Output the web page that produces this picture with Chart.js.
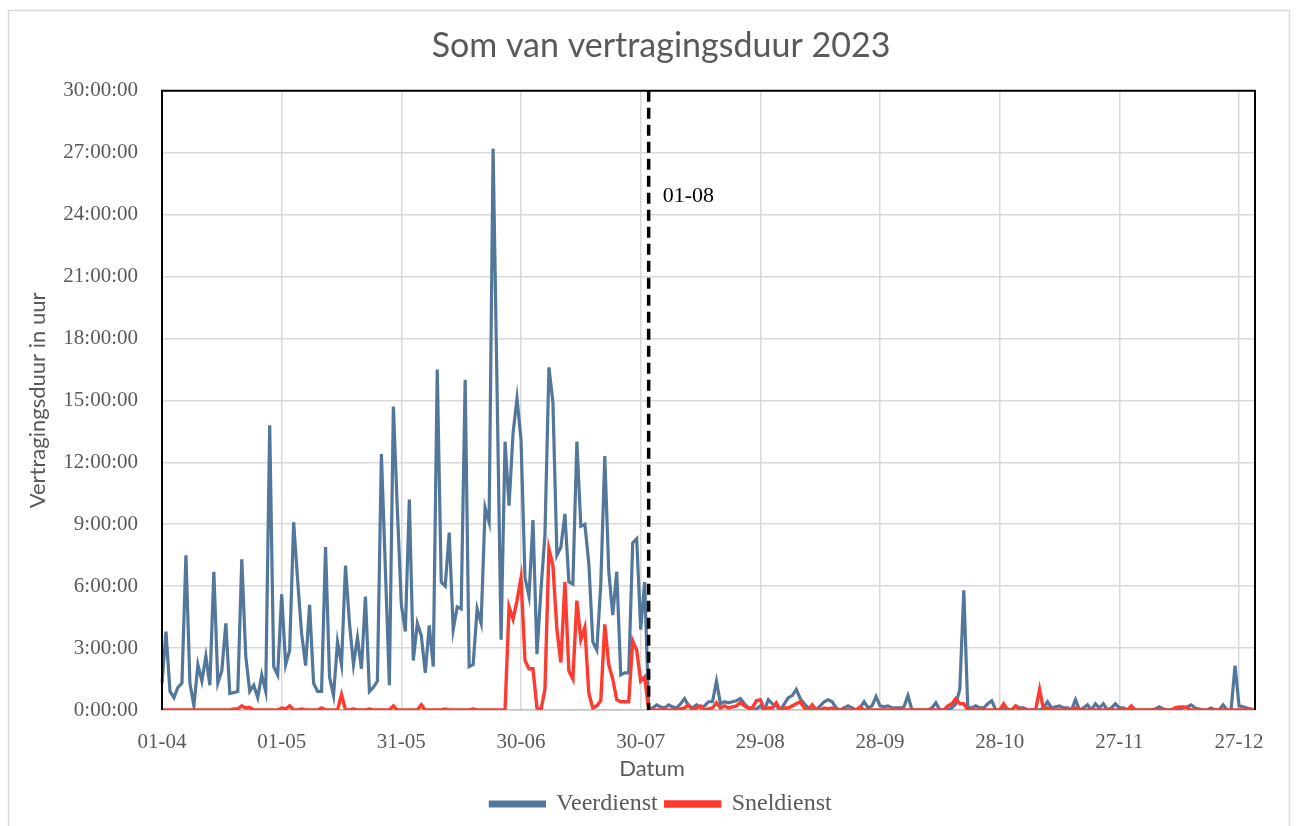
<!DOCTYPE html>
<html>
<head>
<meta charset="utf-8">
<script src="https://cdn.jsdelivr.net/npm/chart.js@4.4.0/dist/chart.umd.min.js"></script>
<style>
  html, body { margin: 0; padding: 0; background: #fff; }
  #wrap { width: 1298px; height: 826px; }
</style>
</head>
<body>
<div id="wrap"><canvas id="myChart" width="1298" height="826"></canvas></div>
<script>
// x-axis tick labels (every 30 days starting 01-04)
var tickLabels = ['01-04', '01-05', '31-05', '30-06', '30-07', '29-08', '28-09', '28-10', '27-11', '27-12'];
var markerIndex = 122;      // 01-08
var markerLabel = '01-08';

// daily totals in hours, 01-04 .. 31-12
var veerdienst = [
    1.3, 3.8, 0.9, 0.6, 1.1, 1.3, 7.5, 1.3, 0.2, 2.2,
    1.4, 2.6, 1.2, 6.7, 1.3, 1.9, 4.2, 0.8, 0.85, 0.9,
    7.3, 2.6, 0.9, 1.2, 0.6, 1.7, 0.9, 13.8, 2.1, 1.7,
    5.6, 2.2, 2.9, 9.1, 6.3, 3.7, 2.15, 5.1, 1.3, 0.9,
    0.9, 7.9, 1.6, 0.7, 3.3, 2.2, 7.0, 4.2, 2.2, 3.5,
    2.0, 5.5, 0.9, 1.1, 1.4, 12.4, 6.8, 1.2, 14.7, 9.7,
    5.1, 3.8, 10.2, 2.4, 4.2, 3.6, 1.8, 4.1, 2.1, 16.5,
    6.2, 6.0, 8.6, 3.9, 5.0, 4.9, 16.0, 2.1, 2.2, 4.9,
    4.2, 9.8, 9.1, 27.2, 15.5, 3.4, 13.0, 9.9, 13.4, 15.1,
    13.1, 6.4, 5.5, 9.2, 2.7, 5.8, 8.5, 16.6, 14.9, 7.5,
    7.9, 9.5, 6.2, 6.1, 13.0, 8.9, 9.0, 7.1, 3.3, 2.9,
    6.1, 12.3, 6.7, 4.6, 6.7, 1.7, 1.8, 1.8, 8.1, 8.3,
    3.9, 6.2,
    0, 0.1, 0.25, 0.15, 0.1, 0.25, 0.15, 0.1,
    0.3, 0.55, 0.2, 0.1, 0.25, 0.1, 0.2, 0.4, 0.4, 1.4,
    0.3, 0.4, 0.35, 0.4, 0.45, 0.55, 0.3, 0.1, 0, 0.05,
    0.2, 0, 0.5, 0.3, 0.2, 0, 0.3, 0.6, 0.7, 1.0,
    0.55, 0.3, 0.1, 0, 0, 0.2, 0.4, 0.5, 0.4, 0.1,
    0, 0.1, 0.2, 0.1, 0, 0.1, 0.4, 0.1, 0.2, 0.65,
    0.2, 0.15, 0.2, 0.1, 0.1, 0.1, 0.15, 0.7, 0, 0,
    0, 0, 0, 0.1, 0.35, 0, 0, 0, 0.1, 0.3,
    1.0, 5.8, 0.1, 0.1, 0.2, 0.1, 0.1, 0.3, 0.45, 0,
    0, 0.1, 0.05, 0, 0.2, 0.1, 0.1, 0, 0, 0,
    0, 0.1, 0.4, 0.1, 0.15, 0.2, 0.1, 0.1, 0, 0.5,
    0, 0.1, 0.25, 0, 0.3, 0.1, 0.3, 0, 0.1, 0.3,
    0.1, 0.1, 0, 0, 0, 0, 0, 0, 0, 0.05,
    0.15, 0.05, 0, 0, 0, 0.05, 0.1, 0.15, 0.25, 0.1,
    0.05, 0, 0, 0.1, 0, 0, 0.25, 0, 0, 2.15,
    0.2, 0.15, 0.1, 0.05, 0
];

var sneldienst = [
    0, 0, 0, 0, 0, 0, 0, 0, 0, 0,
    0, 0, 0, 0, 0, 0, 0, 0, 0.05, 0.05,
    0.2, 0.1, 0.12, 0, 0, 0, 0, 0, 0, 0,
    0.1, 0.05, 0.2, 0, 0, 0.05, 0, 0, 0, 0,
    0.1, 0, 0, 0, 0, 0.75, 0, 0, 0.05, 0,
    0, 0, 0.05, 0, 0, 0, 0, 0, 0.2, 0,
    0, 0, 0, 0, 0, 0.25, 0, 0, 0, 0,
    0, 0.05, 0, 0, 0, 0, 0, 0, 0.05, 0,
    0, 0, 0, 0, 0, 0, 0, 5.0, 4.4, 5.3,
    6.4, 2.4, 2.0, 2.0, 0.1, 0, 1.0, 7.8, 7.0, 3.9,
    2.3, 6.2, 1.9, 1.5, 5.3, 3.4, 4.0, 0.8, 0.1, 0.2,
    0.45, 4.15, 2.2, 1.5, 0.5, 0.4, 0.4, 0.4, 3.35, 2.9,
    1.4, 1.6,
    0, 0, 0, 0, 0, 0, 0, 0,
    0.05, 0.1, 0.25, 0, 0.1, 0.2, 0, 0.05, 0.1, 0.35,
    0.1, 0.2, 0.1, 0.15, 0.2, 0.35, 0.2, 0.1, 0.1, 0.45,
    0.5, 0, 0.1, 0.1, 0.35, 0, 0.1, 0.1, 0.2, 0.3,
    0.4, 0.1, 0, 0.25, 0, 0, 0.1, 0.05, 0.1, 0,
    0, 0, 0, 0, 0, 0.15, 0, 0, 0, 0,
    0, 0, 0, 0, 0, 0, 0, 0, 0, 0,
    0, 0, 0, 0, 0, 0, 0, 0.2, 0.3, 0.55,
    0.3, 0.3, 0, 0, 0, 0, 0, 0, 0, 0,
    0, 0.3, 0, 0, 0.2, 0, 0, 0, 0, 0,
    1.0, 0, 0.1, 0, 0, 0, 0, 0, 0, 0.1,
    0, 0, 0, 0, 0, 0, 0, 0, 0, 0,
    0, 0, 0, 0.2, 0, 0, 0, 0, 0, 0,
    0, 0, 0, 0, 0.1, 0.15, 0.15, 0.1, 0, 0,
    0, 0, 0, 0, 0, 0, 0, 0, 0, 0,
    0, 0, 0, 0, 0
];

// one category per day
var dates = [];
var d = new Date(2023, 3, 1);
for (var i = 0; i < veerdienst.length; i++) {
    dates.push(('0' + d.getDate()).slice(-2) + '-' + ('0' + (d.getMonth() + 1)).slice(-2));
    d.setDate(d.getDate() + 1);
}

var grey = '#595959';
var serif = "'Liberation Serif', 'Times New Roman', serif";
var sans = "Lato, 'Open Sans', sans-serif";

// frame, plot border, x-axis title and the 01-08 marker
var extras = {
    id: 'extras',
    beforeDraw: function (chart) {
        var c = chart.ctx;
        c.save();
        c.fillStyle = '#fff';
        c.fillRect(0, 0, chart.width, chart.height);
        c.strokeStyle = '#D9D9D9';
        c.lineWidth = 1.5;
        c.strokeRect(8.5, 10.5, 1281, 840);
        c.restore();
    },
    afterDatasetsDraw: function (chart) {
        var c = chart.ctx, a = chart.chartArea;
        var x = chart.scales.x.getPixelForValue(markerIndex);
        c.save();
        c.strokeStyle = '#000';
        c.lineWidth = 2;
        c.beginPath();
        c.moveTo(a.left, a.bottom);
        c.lineTo(a.left, a.top);
        c.lineTo(a.right, a.top);
        c.lineTo(a.right, a.bottom);
        c.stroke();
        c.lineWidth = 3.5;
        c.setLineDash([11, 6]);
        c.beginPath();
        c.moveTo(x, a.top);
        c.lineTo(x, a.bottom);
        c.stroke();
        c.setLineDash([]);
        c.fillStyle = '#000';
        c.font = '22px ' + serif;
        c.textBaseline = 'middle';
        c.fillText(markerLabel, x + 14, chart.scales.y.getPixelForValue(24.9));
        c.fillStyle = grey;
        c.font = '22px ' + sans;
        c.textAlign = 'center';
        c.fillText('Datum', 652, a.bottom + 59);
        c.restore();
    }
};

var ctx = document.getElementById('myChart');
var myChart = new Chart(ctx, {
    type: 'line',
    data: {
        labels: dates,
        datasets: [{
            label: 'Veerdienst',
            data: veerdienst,
            borderColor: '#52779A',
            backgroundColor: '#52779A',
            borderWidth: 3.2,
            pointRadius: 0,
            tension: 0,
            order: 1
        }, {
            label: 'Sneldienst',
            data: sneldienst,
            borderColor: '#FF3B30',
            backgroundColor: '#FF3B30',
            borderWidth: 3.4,
            pointRadius: 0,
            tension: 0,
            order: 0
        }]
    },
    options: {
        responsive: false,
        animation: false,
        layout: { padding: { left: 24, right: 0, top: 0, bottom: 0 } },
        plugins: {
            title: {
                display: true,
                text: 'Som van vertragingsduur 2023',
                color: grey,
                font: { family: sans, size: 34, weight: 'normal' },
                padding: { top: 26, bottom: 24 }
            },
            legend: {
                position: 'bottom',
                labels: {
                    color: grey,
                    font: { family: serif, size: 24 },
                    boxWidth: 54,
                    boxHeight: 4,
                    padding: 8,
                    sort: function (a, b) { return a.datasetIndex - b.datasetIndex; }
                }
            },
            tooltip: { enabled: false }
        },
        scales: {
            x: {
                grid: { color: '#D9D9D9', lineWidth: 1.5, drawTicks: false },
                border: { color: '#BFBFBF', width: 1.5 },
                ticks: {
                    autoSkip: false,
                    maxRotation: 0,
                    padding: 20,
                    color: grey,
                    font: { family: serif, size: 21 },
                    callback: function (v, i) {
                        return i % 30 === 0 ? tickLabels[i / 30] : null;
                    }
                },
                afterFit: function (scale) { scale.height = 74; }
            },
            y: {
                min: 0,
                max: 30,
                grid: { color: '#D9D9D9', lineWidth: 1.5, drawTicks: false },
                border: { display: false },
                ticks: {
                    stepSize: 3,
                    padding: 24,
                    color: grey,
                    font: { family: serif, size: 21 },
                    callback: function (v) { return v + ':00:00'; }
                },
                title: {
                    display: true,
                    text: 'Vertragingsduur in uur',
                    color: grey,
                    font: { family: sans, size: 22 },
                    padding: { top: 1, bottom: 0 }
                },
                afterFit: function (scale) { scale.width = 138; }
            },
            yRight: {
                position: 'right',
                grid: { display: false },
                border: { display: false },
                ticks: { display: false },
                afterFit: function (scale) { scale.width = 43; }
            }
        }
    },
    plugins: [extras]
});
</script>
</body>
</html>
